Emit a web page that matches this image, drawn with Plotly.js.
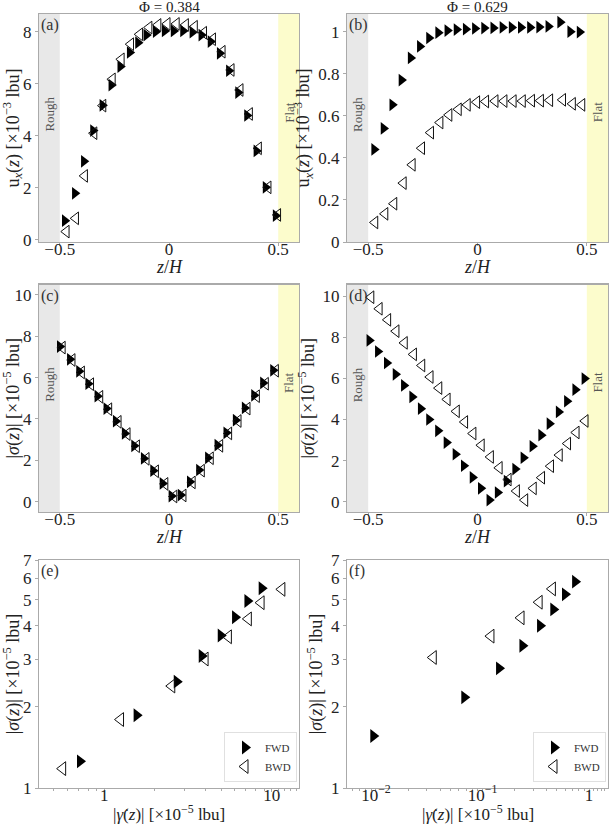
<!DOCTYPE html>
<html>
<head>
<meta charset="utf-8">
<script src="https://cdn.plot.ly/plotly-3.0.1.min.js"></script>
<style>body{margin:0;padding:0;background:#fff;} #plot{width:610px;height:825px;}</style>
</head>
<body>
<div id="plot"></div>
<script>
// ---------- DATA ----------
// (a) Phi = 0.384, velocity profile
const zA_fwd = [-0.477,-0.431,-0.39,-0.348,-0.305,-0.264,-0.223,-0.18,-0.142,-0.104,-0.061,-0.02,0.021,0.064,0.107,0.148,0.19,0.232,0.274,0.316,0.357,0.4,0.442,0.488];
const uA_fwd = [0.74,1.79,3.02,4.2,5.17,5.95,6.66,7.2,7.58,7.87,8.0,8.03,8.03,8.03,7.98,7.87,7.62,7.17,6.5,5.66,4.78,3.42,2.02,0.93];
const zA_bwd = [-0.47,-0.427,-0.386,-0.343,-0.302,-0.259,-0.218,-0.175,-0.134,-0.091,-0.05,-0.008,0.034,0.076,0.117,0.159,0.2,0.244,0.285,0.326,0.369,0.41,0.454,0.498];
const uA_bwd = [0.32,0.83,2.46,4.1,5.16,6.17,6.94,7.52,7.9,8.16,8.26,8.3,8.3,8.26,8.19,7.96,7.71,7.23,6.53,5.76,4.84,3.52,2.02,0.96];
// (b) Phi = 0.629, velocity profile
const zB_fwd = [-0.473,-0.43,-0.39,-0.348,-0.306,-0.264,-0.222,-0.18,-0.138,-0.096,-0.054,-0.012,0.03,0.072,0.114,0.156,0.198,0.24,0.282,0.324,0.378,0.424,0.467];
const uB_fwd = [0.44,0.54,0.652,0.77,0.875,0.93,0.97,0.995,1.005,1.01,1.012,1.015,1.017,1.018,1.02,1.02,1.02,1.02,1.022,1.025,1.045,1.0,0.998];
const zB_bwd = [-0.469,-0.423,-0.382,-0.339,-0.298,-0.255,-0.214,-0.171,-0.13,-0.087,-0.046,-0.003,0.038,0.081,0.122,0.164,0.206,0.248,0.289,0.331,0.39,0.435,0.478];
const uB_bwd = [0.093,0.134,0.182,0.28,0.367,0.446,0.52,0.568,0.604,0.631,0.652,0.665,0.668,0.67,0.67,0.67,0.67,0.672,0.672,0.674,0.676,0.657,0.652];
// (c) Phi = 0.384, stress profile
const zC_fwd = [-0.5,-0.454,-0.412,-0.37,-0.328,-0.287,-0.244,-0.203,-0.16,-0.116,-0.073,-0.03,0.011,0.053,0.095,0.137,0.178,0.221,0.262,0.305,0.346,0.389,0.43,0.476];
const sC_fwd = [7.5,6.88,6.3,5.7,5.1,4.5,3.89,3.3,2.7,2.09,1.5,0.88,0.27,0.32,0.96,1.53,2.12,2.73,3.33,3.94,4.53,5.14,5.74,6.35];
const zC_bwd = [-0.488,-0.443,-0.4,-0.358,-0.316,-0.275,-0.232,-0.191,-0.148,-0.104,-0.061,-0.018,0.023,0.065,0.107,0.149,0.19,0.233,0.274,0.317,0.358,0.401,0.442,0.488];
const sC_bwd = [7.45,6.85,6.25,5.68,5.07,4.47,3.86,3.27,2.68,2.07,1.47,0.86,0.25,0.3,0.93,1.5,2.1,2.7,3.3,3.9,4.5,5.1,5.7,6.33];
// (d) Phi = 0.629, stress profile
const zD_fwd = [-0.495,-0.456,-0.415,-0.375,-0.337,-0.299,-0.26,-0.222,-0.181,-0.142,-0.101,-0.063,-0.023,0.015,0.054,0.092,0.133,0.172,0.21,0.251,0.291,0.329,0.371,0.409,0.447,0.489];
const sD_fwd = [7.85,7.31,6.75,6.2,5.66,5.1,4.53,4.0,3.45,2.88,2.31,1.75,1.18,0.65,0.08,0.45,1.0,1.59,2.14,2.7,3.24,3.8,4.37,4.89,5.45,5.99];
const zD_bwd = [-0.487,-0.449,-0.41,-0.372,-0.334,-0.292,-0.254,-0.216,-0.176,-0.138,-0.096,-0.058,-0.02,0.018,0.06,0.1,0.141,0.179,0.217,0.256,0.294,0.335,0.375,0.413,0.452,0.493];
const sD_bwd = [9.95,9.39,8.85,8.3,7.73,7.17,6.63,6.07,5.53,4.98,4.4,3.88,3.32,2.75,2.18,1.65,1.08,0.52,0.08,0.65,1.17,1.73,2.27,2.83,3.37,3.93];
// (e) Phi = 0.384, stress vs shear rate
const gE_fwd = [0.716,1.56,2.71,3.82,4.96,6.04,7.16,8.71];
const sE_fwd = [1.256,1.862,2.48,3.09,3.68,4.3,4.94,5.51];
const gE_bwd = [0.564,1.25,2.53,4.0,5.51,7.25,8.64,11.5];
const sE_bwd = [1.18,1.795,2.39,3.01,3.64,4.24,4.87,5.46];
// (f) Phi = 0.629, stress vs shear rate
const gF_fwd = [0.00944,0.0675,0.143,0.237,0.347,0.462,0.595,0.74];
const sF_fwd = [1.56,2.17,2.78,3.37,4.0,4.6,5.23,5.83];
const gF_bwd = [0.0345,0.12,0.23,0.34,0.453];
const sF_bwd = [3.05,3.66,4.28,4.89,5.48];

// tick labels
const ticksLogY = [1,2,3,4,5,6,7];
const ticksLogYText = ['1','2','3','4','5','6','7'];
const ticksE = [1,10];
const ticksEText = ['1','10'];
const ticksF = [0.01,0.1,1];
const ticksFText = ['10<sup>−2</sup>','10<sup>−1</sup>','1'];
const minorE = [0.4,0.5,0.6,0.7,0.8,0.9,2,3,4,5,6,7,8,9,11,12,13,14];
const minorF = [0.006,0.007,0.008,0.009,0.02,0.03,0.04,0.05,0.06,0.07,0.08,0.09,0.2,0.3,0.4,0.5,0.6,0.7,0.8,0.9,1.1,1.2,1.3,1.4];

// ---------- STYLE ----------
const FONT = 'Liberation Serif';
const AX = '#aaaaaa';
const TXT = '#222';
const fwdMarker = (s)=>({symbol:'triangle-right', size:s, color:'#000', line:{width:0}});
const bwdMarker = (s)=>({symbol:'triangle-left-open', size:s, color:'#111', line:{width:1, color:'#111'}});

function tr(x,y,ax,which,name,show,legend,size){
  return {x:x, y:y, xaxis:'x'+ax, yaxis:'y'+ax, type:'scatter', mode:'markers', name:name,
    showlegend:show, legend:legend||'legend',
    marker: which==='f'?fwdMarker(size):bwdMarker(size), hoverinfo:'skip'};
}
const data = [
  tr(zA_fwd,uA_fwd,'','f','FWD',false,null,11),
  tr(zA_bwd,uA_bwd,'','b','BWD',false,null,11),
  tr(zB_fwd,uB_fwd,'2','f','FWD',false,null,11),
  tr(zB_bwd,uB_bwd,'2','b','BWD',false,null,11),
  tr(zC_fwd,sC_fwd,'3','f','FWD',false,null,11),
  tr(zC_bwd,sC_bwd,'3','b','BWD',false,null,11),
  tr(zD_fwd,sD_fwd,'4','f','FWD',false,null,11),
  tr(zD_bwd,sD_bwd,'4','b','BWD',false,null,11),
  tr(gE_fwd,sE_fwd,'5','f','FWD',true,'legend',12),
  tr(gE_bwd,sE_bwd,'5','b','BWD',true,'legend',12),
  tr(gF_fwd,sF_fwd,'6','f','FWD',true,'legend2',12),
  tr(gF_bwd,sF_bwd,'6','b','BWD',true,'legend2',12)
];

const W=610, H=825;
const colL=[39/W, 299/W], colR=[347/W, 608/W];
const row1=[1-242/H, 1-14/H], row2=[1-512/H, 1-284.5/H], row3=[1-788/H, 1-560/H];

function baseAxis(extra){
  return Object.assign({showline:true, mirror:true, linecolor:AX, linewidth:1.2,
    ticks:'outside', ticklen:3, tickcolor:AX, showgrid:false, zeroline:false,
    tickfont:{family:FONT, size:17, color:TXT}}, extra);
}
function xAxis(extra){ return baseAxis(Object.assign({ticklabelstandoff:-12}, extra)); }
const uTitle = {text:'u<sub><i>x</i></sub>(<i>z</i>) [×10<sup>−3</sup> lbu]', font:{family:FONT,size:18,color:TXT}, standoff:3};
const sTitle = {text:'|<i>σ</i>(<i>z</i>)| [×10<sup>−5</sup> lbu]', font:{family:FONT,size:18,color:TXT}, standoff:3};
const zTitleText = '<i>z</i>/<i>H</i>';
const gTitleText = '|<i>γ̇</i>(<i>z</i>)| [×10<sup>−5</sup> lbu]';
const zTicks = {tickmode:'array', tickvals:[-0.5,0,0.5], ticktext:['−0.5','0','0.5']};

const layout = {
  width:W, height:H, margin:{l:0,r:0,t:0,b:0}, paper_bgcolor:'#fff', plot_bgcolor:'#fff',
  font:{family:FONT, color:TXT},
  xaxis: xAxis(Object.assign({domain:colL, anchor:'y', range:[-0.595,0.595]}, zTicks)),
  yaxis: baseAxis({domain:row1, anchor:'x', range:[-0.08,8.68], tickvals:[0,2,4,6,8], title:uTitle}),
  xaxis2: xAxis(Object.assign({domain:colR, anchor:'y2', range:[-0.597,0.597]}, zTicks)),
  yaxis2: baseAxis({domain:row1, anchor:'x2', range:[0,1.084], tickvals:[0,0.2,0.4,0.6,0.8,1], ticktext:['0','0.2','0.4','0.6','0.8','1'], title:uTitle}),
  xaxis3: xAxis(Object.assign({domain:colL, anchor:'y3', range:[-0.595,0.595]}, zTicks)),
  yaxis3: baseAxis({domain:row2, anchor:'x3', range:[-0.5,10.5], tickvals:[0,2,4,6,8,10], title:sTitle}),
  xaxis4: xAxis(Object.assign({domain:colR, anchor:'y4', range:[-0.597,0.597]}, zTicks)),
  yaxis4: baseAxis({domain:row2, anchor:'x4', range:[-0.5,10.57], tickvals:[0,2,4,6,8,10], title:sTitle}),
  xaxis5: xAxis({domain:colL, anchor:'y5', type:'log', range:[-0.39,1.163], tickmode:'array', tickvals:ticksE, ticktext:ticksEText,
    minor:{tickmode:'array', tickvals:minorE, ticks:'outside', ticklen:2, tickcolor:AX}}),
  yaxis5: baseAxis({domain:row3, anchor:'x5', type:'log', range:[0,0.846], tickmode:'array', tickvals:ticksLogY, ticktext:ticksLogYText, title:sTitle}),
  xaxis6: xAxis({domain:colR, anchor:'y6', type:'log', range:[-2.272,0.178], tickmode:'array', tickvals:ticksF, ticktext:ticksFText,
    minor:{tickmode:'array', tickvals:minorF, ticks:'outside', ticklen:2, tickcolor:AX}}),
  yaxis6: baseAxis({domain:row3, anchor:'x6', type:'log', range:[0,0.846], tickmode:'array', tickvals:ticksLogY, ticktext:ticksLogYText, title:sTitle}),
  legend: {x:297/W, y:1-782/H, xanchor:'right', yanchor:'bottom', bgcolor:'#fff', bordercolor:'#e0e0e0', borderwidth:1,
    font:{family:FONT,size:11,color:'#333'}, itemwidth:30, tracegroupgap:0},
  legend2: {x:606/W, y:1-782/H, xanchor:'right', yanchor:'bottom', bgcolor:'#fff', bordercolor:'#e0e0e0', borderwidth:1,
    font:{family:FONT,size:11,color:'#333'}, itemwidth:30, tracegroupgap:0},
  shapes: [], annotations: []
};

const bandPanels = [['x','y'],['x2','y2'],['x3','y3'],['x4','y4']];
bandPanels.forEach(([xa,ya])=>{
  layout.shapes.push({type:'rect', xref:xa, yref:ya+' domain', x0:-0.7, x1:-0.5, y0:0, y1:1, fillcolor:'#e8e8e8', line:{width:0}, layer:'below'});
  layout.shapes.push({type:'rect', xref:xa, yref:ya+' domain', x0:0.5, x1:0.7, y0:0, y1:1, fillcolor:'#fcfccc', line:{width:0}, layer:'below'});
  layout.annotations.push({xref:xa, yref:ya+' domain', x:-0.548, y:0.56, text:'Rough', textangle:-90, showarrow:false,
    font:{family:FONT,size:13,color:'#555'}});
  layout.annotations.push({xref:xa, yref:ya+' domain', x:0.548, y:0.57, text:'Flat', textangle:-90, showarrow:false,
    font:{family:FONT,size:13,color:'#555'}});
});
const labels = [['x','y','(a)'],['x2','y2','(b)'],['x3','y3','(c)'],['x4','y4','(d)'],['x5','y5','(e)'],['x6','y6','(f)']];
labels.forEach(([xa,ya,t])=>{
  layout.annotations.push({xref:xa+' domain', yref:ya+' domain', x:0.0, y:1.0, xanchor:'left', yanchor:'top', text:t, showarrow:false,
    font:{family:FONT,size:16,color:'#333'}});
});
layout.annotations.push({xref:'x domain', yref:'paper', x:0.5, y:1-7/H, yanchor:'middle', text:'Φ = 0.384', showarrow:false,
  font:{family:FONT,size:15,color:TXT}, borderpad:0});
layout.annotations.push({xref:'x2 domain', yref:'paper', x:0.5, y:1-7/H, yanchor:'middle', text:'Φ = 0.629', showarrow:false,
  font:{family:FONT,size:15,color:TXT}, borderpad:0});
// x-axis titles placed at fixed heights below the tick labels
const xTitles = [['x',267,zTitleText,18],['x2',267,zTitleText,18],['x3',537,zTitleText,18],['x4',537,zTitleText,18],['x5',813,gTitleText,17],['x6',813,gTitleText,17]];
xTitles.forEach(([xa,py,t,fs])=>{
  layout.annotations.push({xref:xa+' domain', yref:'paper', x:0.5, y:1-py/H, yanchor:'middle', text:t, showarrow:false,
    font:{family:FONT,size:fs,color:TXT}, borderpad:0});
});

Plotly.newPlot('plot', data, layout, {staticPlot:true, displayModeBar:false});
</script>
</body>
</html>
